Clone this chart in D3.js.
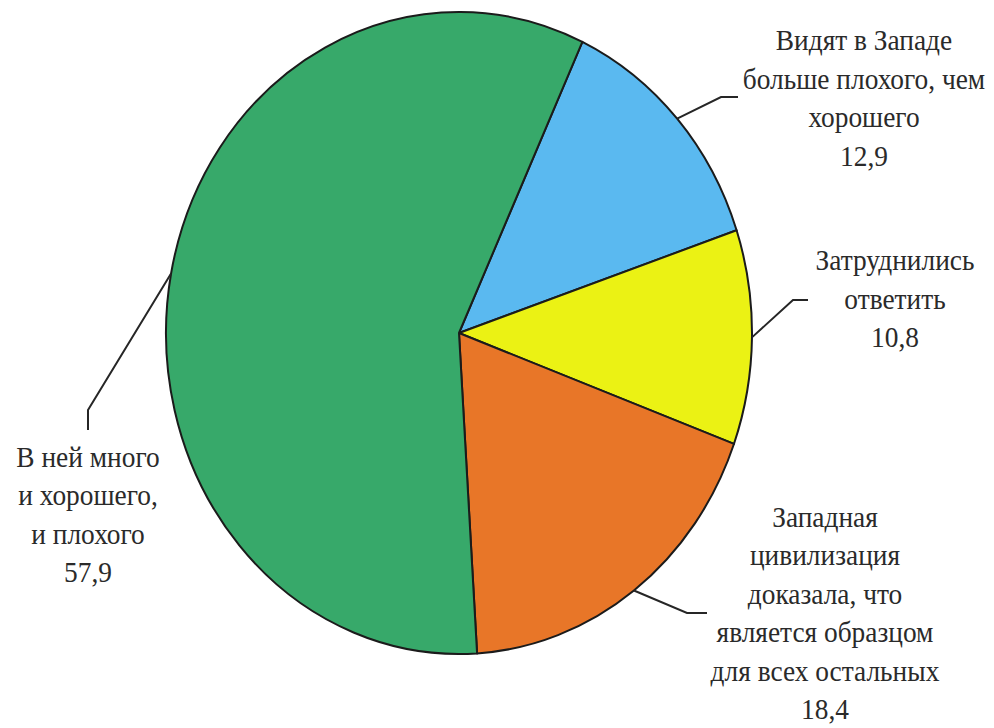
<!DOCTYPE html>
<html>
<head>
<meta charset="utf-8">
<script src="https://cdn.jsdelivr.net/npm/d3@7"></script>
<style>
    body { margin: 0; background: #fff; }
    svg { display: block; }
</style>
</head>
<body>
<div class="chart-container"></div>
<script>
// data
const categories = [
    'Видят в Западе больше плохого, чем хорошего',
    'Затруднились ответить',
    'Западная цивилизация доказала, что является образцом для всех остальных',
    'В ней много и хорошего, и плохого'
];
const values = [12.9, 10.8, 18.4, 57.9];
const valueLabels = ['12,9', '10,8', '18,4', '57,9'];
const labelLines = [
    ['Видят в Западе', 'больше плохого, чем', 'хорошего'],
    ['Затруднились', 'ответить'],
    ['Западная', 'цивилизация', 'доказала, что', 'является образцом', 'для всех остальных'],
    ['В ней много', 'и хорошего,', 'и плохого']
];
const colors = ['#5ab9f0', '#ebf214', '#e87628', '#37a96a'];

// layout (screen px)
const width = 994;
const height = 728;
const cx = 459, cy = 333;
const rx = 293, ry = 321;
const sx = rx / ry; // picture is squeezed horizontally
const rotation = 24.9 * Math.PI / 180;
const lineHeight = 38.5;

// label placement: text centre x, first baseline y, leader elbow and end
const labelPos = [
    { x: 864, y: 50, elbow: [721, 97], end: [738, 97] },
    { x: 895, y: 270, elbow: [793, 300], end: [808, 300] },
    { x: 825, y: 527, elbow: [687, 613], end: [707, 613] },
    { x: 88, y: 467, elbow: [88, 410], end: [88, 430] }
];

const data = values.map((v, i) => ({
    name: categories[i],
    value: v,
    label: valueLabels[i],
    lines: labelLines[i],
    color: colors[i],
    pos: labelPos[i]
}));

// screen -> scaled group coords
const ux = x => (x - cx) / sx;
const uy = y => y - cy;

const pie = d3.pie()
    .sort(null)
    .value(d => d.value)
    .startAngle(rotation)
    .endAngle(rotation + 2 * Math.PI);

const arcGen = d3.arc()
    .innerRadius(0)
    .outerRadius(ry);

const svg = d3.select('.chart-container')
    .append('svg')
    .attr('width', width)
    .attr('height', height);

const g = svg.append('g')
    .attr('transform', `translate(${cx}, ${cy}) scale(${sx}, 1)`);

const arcs = pie(data);

// slices
g.selectAll('.slice')
    .data(arcs)
    .enter()
        .append('path')
        .attr('class', 'slice')
        .attr('d', arcGen)
        .attr('fill', d => d.data.color)
        .attr('stroke', '#1b1b1b')
        .attr('stroke-width', 2)
        .attr('stroke-linejoin', 'round')
        .attr('vector-effect', 'non-scaling-stroke');

// leader lines from the slice mid-angle on the rim
const leaderGen = d3.line();
g.selectAll('.leader')
    .data(arcs)
    .enter()
        .append('path')
        .attr('class', 'leader')
        .attr('d', d => {
            const a = (d.startAngle + d.endAngle) / 2;
            const start = [ry * Math.sin(a), -ry * Math.cos(a)];
            const p = d.data.pos;
            return leaderGen([
                start,
                [ux(p.elbow[0]), uy(p.elbow[1])],
                [ux(p.end[0]), uy(p.end[1])]
            ]);
        })
        .attr('fill', 'none')
        .attr('stroke', '#262626')
        .attr('stroke-width', 2)
        .attr('vector-effect', 'non-scaling-stroke');

// labels
const labels = g.selectAll('.slice-label')
    .data(arcs)
    .enter()
        .append('text')
        .attr('class', 'slice-label')
        .attr('text-anchor', 'middle')
        .attr('font-family', 'Liberation Serif, DejaVu Sans')
        .attr('font-size', 30)
        .attr('fill', '#2a2a2a');

labels.each(function(d) {
    const t = d3.select(this);
    const p = d.data.pos;
    const rows = [...d.data.lines, d.data.label];
    rows.forEach((row, i) => {
        t.append('tspan')
            .attr('x', ux(p.x))
            .attr('y', uy(p.y + i * lineHeight))
            .text(row);
    });
});
</script>
</body>
</html>
